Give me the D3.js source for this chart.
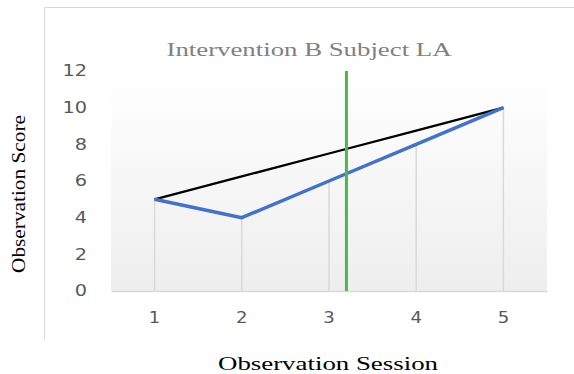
<!DOCTYPE html>
<html><head><meta charset="utf-8">
<script src="https://cdn.jsdelivr.net/npm/d3@7/dist/d3.min.js"></script>
<style>html,body{margin:0;padding:0;background:#fff;}svg{display:block;}</style>
</head><body>
<script>
const sessions = [1, 2, 3, 4, 5];
const observed = [5, 4, 6, 8, 10];
const trend = [5, 6.25, 7.5, 8.75, 10];
const phaseChange = 3.2;
const yTicks = [0, 2, 4, 6, 8, 10, 12];
const title = "Intervention B Subject LA";
const xTitle = "Observation Session";
const yTitle = "Observation Score";

const W = 574, H = 374;
const plot = {left: 111, right: 547, top: 71, bottom: 291};
const svg = d3.select("body").append("svg").attr("width", W).attr("height", H);

// chart frame (top and left edges visible)
svg.append("line").attr("x1", 44).attr("x2", W).attr("y1", 7.5).attr("y2", 7.5).attr("stroke", "#d9d9d9");
svg.append("line").attr("x1", 44.5).attr("x2", 44.5).attr("y1", 7).attr("y2", 340).attr("stroke", "#d9d9d9");

const defs = svg.append("defs");
const grad = defs.append("linearGradient").attr("id", "bg").attr("x1", 0).attr("y1", 0).attr("x2", 0).attr("y2", 1);
grad.append("stop").attr("offset", "0%").attr("stop-color", "#ffffff");
grad.append("stop").attr("offset", "100%").attr("stop-color", "#eeeeee");

const x = d3.scaleBand().domain(sessions).range([plot.left, plot.right]);
const xc = d => x(d) + x.bandwidth() / 2;
const xLin = d3.scaleLinear().domain([1, 5]).range([xc(1), xc(5)]);
const y = d3.scaleLinear().domain([0, 12]).range([plot.bottom, plot.top]);

svg.append("rect").attr("x", plot.left).attr("y", plot.top)
  .attr("width", plot.right - plot.left).attr("height", plot.bottom - plot.top)
  .attr("fill", "url(#bg)");

// drop lines
svg.append("g").selectAll("line").data(sessions).join("line")
  .attr("x1", d => xc(d)).attr("x2", d => xc(d))
  .attr("y1", (d, i) => y(observed[i])).attr("y2", y(0))
  .attr("stroke", "#d9d9d9").attr("stroke-width", 1.5);

// x axis
const xAxis = svg.append("g").attr("transform", `translate(0,${plot.bottom})`)
  .call(d3.axisBottom(x).tickSize(0).tickPadding(21));
xAxis.select(".domain").attr("stroke", "#d9d9d9").attr("stroke-width", 1.5);
xAxis.selectAll("text").attr("font-family", "DejaVu Sans").attr("font-size", 15).attr("fill", "#595959")
  .attr("textLength", 11.5).attr("lengthAdjust", "spacingAndGlyphs");

// y axis
const yAxis = svg.append("g").attr("transform", `translate(${plot.left},0)`)
  .call(d3.axisLeft(y).tickValues(yTicks).tickSize(0).tickPadding(24));
yAxis.select(".domain").remove();
yAxis.selectAll("text").attr("font-family", "DejaVu Sans").attr("font-size", 15).attr("fill", "#595959")
  .attr("textLength", d => String(d).length * 12.3).attr("lengthAdjust", "spacingAndGlyphs");

const line = d3.line().x((d, i) => xc(sessions[i])).y(d => y(d));
svg.append("path").datum(trend).attr("d", line).attr("fill", "none").attr("stroke", "#000").attr("stroke-width", 2.3);
svg.append("path").datum(observed).attr("d", line).attr("fill", "none").attr("stroke", "#4472c4").attr("stroke-width", 3.5).attr("stroke-linejoin", "round");

// phase change line
svg.append("line").attr("x1", xLin(phaseChange)).attr("x2", xLin(phaseChange))
  .attr("y1", y(12)).attr("y2", y(0)).attr("stroke", "#4cb848").attr("stroke-width", 3);

// titles
svg.append("text").attr("x", 309).attr("y", 56).attr("text-anchor", "middle")
  .attr("font-family", "Liberation Serif").attr("font-size", 18).attr("fill", "#808080")
  .attr("textLength", 285).attr("lengthAdjust", "spacingAndGlyphs").text(title);
svg.append("text").attr("x", 328).attr("y", 370).attr("text-anchor", "middle")
  .attr("font-family", "Liberation Serif").attr("font-size", 19).attr("fill", "#000")
  .attr("textLength", 220).attr("lengthAdjust", "spacingAndGlyphs").text(xTitle);
svg.append("text").attr("transform", "translate(25,194) rotate(-90)").attr("text-anchor", "middle")
  .attr("font-family", "Liberation Serif").attr("font-size", 18).attr("fill", "#000")
  .attr("textLength", 158).attr("lengthAdjust", "spacingAndGlyphs").text(yTitle);
</script>
</body></html>
